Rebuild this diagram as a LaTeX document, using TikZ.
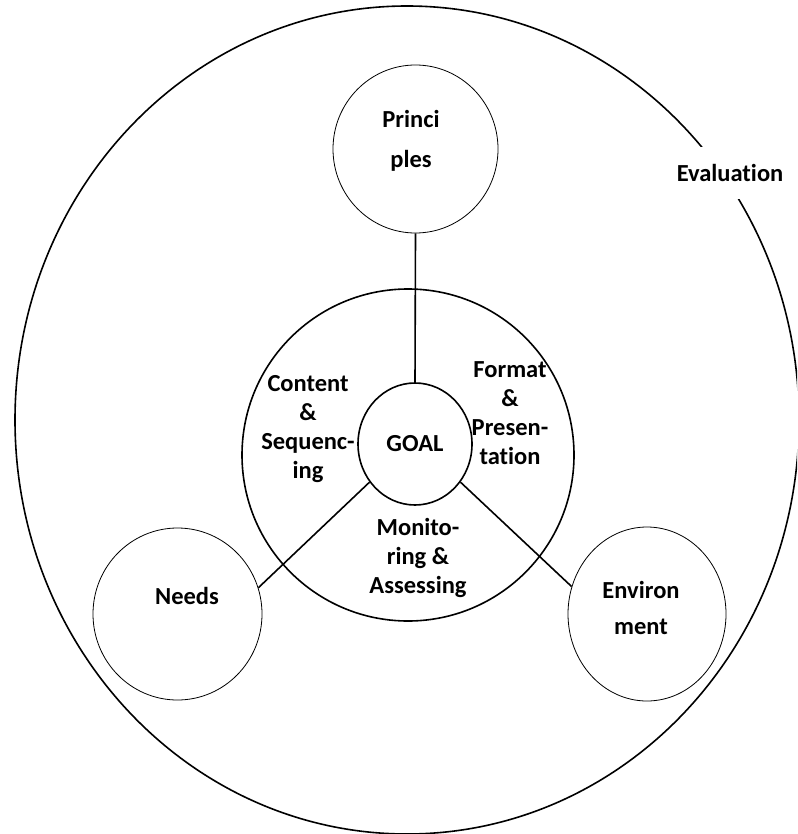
\documentclass[tikz,border=0pt]{standalone}
\usepackage{fontspec}
\setmainfont{Carlito}[Ligatures=NoCommon]
\usetikzlibrary{shapes.geometric}
\begin{document}
\begin{tikzpicture}[x=1pt,y=-1pt,
  lbl/.style={font=\bfseries\fontsize{24.5}{29}\selectfont, align=center},
  thick line/.style={line width=1.6pt},
  thin line/.style={line width=0.8pt},
  satellite/.style={ellipse, draw, thin line, inner sep=0pt}
]
\useasboundingbox (0,0) rectangle (797,834);
\clip (0,0) rectangle (797,834);

% outer evaluation ring
\node[ellipse, draw, thick line, minimum width=784, minimum height=828, inner sep=0pt] (eval) at (407,420) {};

% middle ring and goal
\node[circle, draw, thick line, minimum size=332, inner sep=0pt] (mid) at (408,455) {};
\node[ellipse, draw, thick line, minimum width=114, minimum height=122, inner sep=0pt] (goal) at (415,444) {};
\node[lbl] at (goal.center) {GOAL};

% satellite ellipses
\node[satellite, minimum width=165, minimum height=168] (prin) at (415.5,149) {};
\node[satellite, minimum width=169, minimum height=172] (needs) at (177.5,614) {};
\node[satellite, minimum width=158, minimum height=174] (env) at (647,614) {};

% spokes
\draw[thick line] (goal.north) -- (prin.south);
\draw[thick line] (goal.-140) -- (needs.18);
\draw[thick line] (goal.-40) -- (env.160);

% labels
\node[lbl] at (411,140.5) {Princi\\[11pt]ples};
\node[lbl] at (187,596) {Needs};
\node[lbl] at (641,608) {Environ\\[7pt]ment};
\node[lbl] at (308,429) {Content\\\&\\Sequenc-\\ing};
\node[lbl] at (510,413) {Format\\\&\\Presen-\\tation};
\node[lbl] at (418,557.5) {Monito-\\ring \&\\Assessing};

% evaluation label breaks the outer ring
\node[lbl, fill=white, minimum height=52, inner xsep=3pt] (evaltxt) at (730,173) {Evaluation};
\end{tikzpicture}
\end{document}
